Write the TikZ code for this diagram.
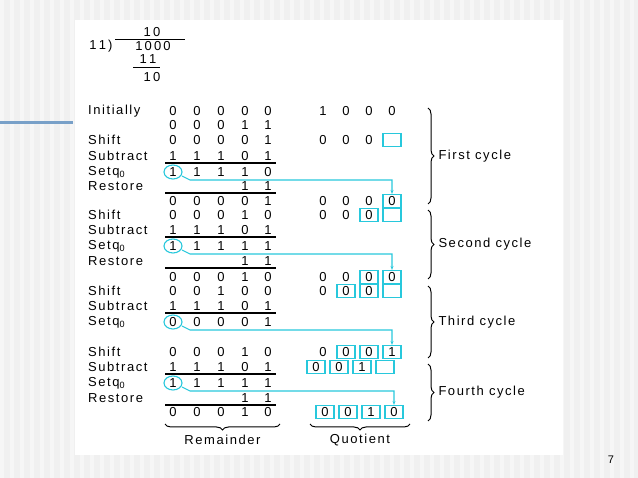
\documentclass[tikz,border=0pt]{standalone}
\usepackage{fontspec}
\setmainfont{Liberation Sans}
\newfontfamily\wide[LetterSpace=12]{Liberation Sans}
\usetikzlibrary{decorations.pathreplacing,arrows.meta}
\definecolor{cy}{RGB}{40,200,220}
\definecolor{bar}{RGB}{120,160,200}
\begin{document}
\begin{tikzpicture}[x=1pt,y=-1pt,
  t/.style={font=\fontsize{13}{14}\selectfont,inner sep=0pt,anchor=center},
  lab/.style={font=\wide\fontsize{13}{14}\selectfont,inner sep=0pt,anchor=west},
  qb/.style={draw=cy,line width=1.1pt,minimum width=18pt,minimum height=13pt,inner sep=0pt,font=\fontsize{13}{14}\selectfont},
  ca/.style={cy,line width=1.1pt},
  br/.style={decorate,decoration={brace,amplitude=6pt},line width=1pt}]
\useasboundingbox (0,0) rectangle (638,478);
\fill[gray!12] (0,0) rectangle (638,478);
\foreach \i in {0,...,63}{\fill[white,opacity=0.4] (\i*10,0) rectangle (\i*10+4,478);}
\fill[white] (75,20) rectangle (563,455);
\fill[bar] (0,121) rectangle (73,124);
\node[t,font=\fontsize{11}{12}\selectfont] (pg) at (611,460) {7};
% long division
\node[t] (q) at (152,32) {1\,0};
\draw[line width=0.8pt] (115,39) -- (185,39);
\node[t] (dv) at (101,46) {1\,1\,)};
\node[t] (dd) at (153,46) {1\,0\,0\,0};
\node[t] (s1) at (148,59) {1\,1};
\draw[line width=0.8pt] (133,67) -- (160,67);
\node[t] (r1) at (152,77) {1\,0};
% labels
\foreach \y/\s [count=\k] in {111/Initially,140/Shift,156/Subtract,172/Set{q$_{\mathrm{0}}$},186/Restore,215/Shift,230/Subtract,246/Set{q$_{\mathrm{0}}$},261/Restore,291/Shift,306/Subtract,322/Set{q$_{\mathrm{0}}$},352/Shift,367/Subtract,383/Set{q$_{\mathrm{0}}$},398/Restore}
  \node[lab] (L\k) at (88,\y) {\s};
% remainder rows
\foreach \y/\a/\b/\c/\d/\e [count=\k] in {
 111/0/0/0/0/0, 125/0/0/0/1/1, 140/0/0/0/0/1, 156/1/1/1/0/1, 172/1/1/1/1/0, 186/{}/{}/{}/1/1,
 201/0/0/0/0/1, 215/0/0/0/1/0, 230/1/1/1/0/1, 246/1/1/1/1/1, 261/{}/{}/{}/1/1,
 277/0/0/0/1/0, 291/0/0/1/0/0, 306/1/1/1/0/1, 322/0/0/0/0/1,
 352/0/0/0/1/0, 367/1/1/1/0/1, 383/1/1/1/1/1, 398/{}/{}/{}/1/1, 412/0/0/0/1/0}{
  \node[t] (R\k a) at (173,\y) {\a};
  \node[t] (R\k b) at (197,\y) {\b};
  \node[t] (R\k c) at (221,\y) {\c};
  \node[t] (R\k d) at (245,\y) {\d};
  \node[t] (R\k e) at (268,\y) {\e};
}
\foreach \y in {163,193,237,268,313,374,405}
  \draw[line width=1.1pt] (165,\y) -- (276,\y);
% quotient
\foreach \x/\v [count=\k] in {323/1,346/0,369/0,392/0} \node[t] (Qi\k) at (\x,111) {\v};
\node[t] at (323,140) {0};\node[t] at (346,140) {0};\node[t] at (369,140) {0};
\node[qb] (B1) at (392,140) {};
\node[t] at (323,201) {0};\node[t] at (346,201) {0};\node[t] at (369,201) {0};
\node[qb] (B2) at (392,201) {0};
\node[t] at (323,215) {0};\node[t] at (346,215) {0};
\node[qb] at (369,215) {0};\node[qb] at (392,215) {};
\node[t] at (323,277) {0};\node[t] at (346,277) {0};
\node[qb] at (369,277) {0};\node[qb] (B3) at (392,277) {0};
\node[t] at (323,291) {0};
\node[qb] at (346,291) {0};\node[qb] at (369,291) {0};\node[qb] at (392,291) {};
\node[t] at (323,352) {0};
\node[qb] at (346,352) {0};\node[qb] at (369,352) {0};\node[qb] (B4) at (392,352) {1};
\node[qb] at (316,367) {0};\node[qb] at (339,367) {0};\node[qb] at (362,367) {1};\node[qb] at (385,367) {};
\node[qb] at (325,412) {0};\node[qb] at (348,412) {0};\node[qb] at (371,412) {1};\node[qb] (B5) at (394,412) {0};
% circles and arrows
\foreach \k/\y/\tgt in {5/172/B2,10/246/B3,15/322/B4,18/383/B5}{
  \draw[ca] (R\k a) ellipse (9pt and 7pt);
  \coordinate (c\k) at (\tgt.north |- 0,\y+8);
  \draw[ca,-{Stealth[length=4pt]}] (182,\y+4) -- (190,\y+8) -- (c\k) -- (\tgt.north);
}
% braces
\draw[br] (428,108) -- (428,204) node[midway,xshift=10pt,lab] (C1) {First cycle};
\draw[br] (428,210) -- (428,279) node[midway,xshift=10pt,lab] (C2) {Second cycle};
\draw[br] (428,286) -- (428,358) node[midway,xshift=10pt,lab] (C3) {Third cycle};
\draw[br] (428,364) -- (428,421) node[midway,xshift=10pt,lab] (C4) {Fourth cycle};
\draw[br] (280,424) -- (165,424) node[midway,yshift=-16pt,lab,anchor=center] (RM) {Remainder};
\draw[br] (410,424) -- (310,424) node[midway,yshift=-16pt,lab,anchor=center] (QT) {Quotient};
\end{tikzpicture}
\end{document}
